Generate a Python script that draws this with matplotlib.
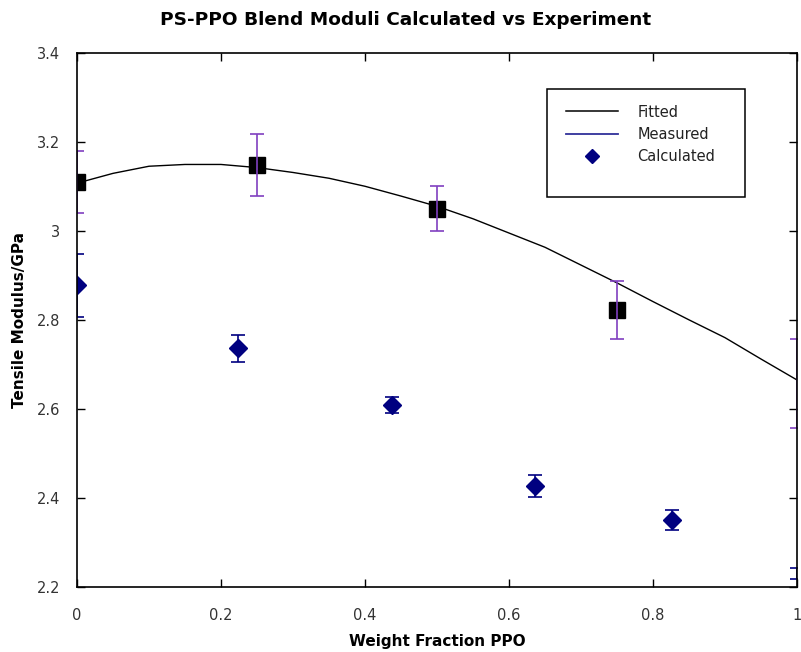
import matplotlib
matplotlib.use("Agg")
from matplotlib import pyplot as plt
from matplotlib.lines import Line2D
from matplotlib.patches import Rectangle
from matplotlib.ticker import FuncFormatter

# fitted curve
fit_x = [0.0, 0.05, 0.1, 0.15, 0.2, 0.25, 0.3, 0.35, 0.4, 0.45, 0.5,
         0.55, 0.6, 0.65, 0.7, 0.75, 0.8, 0.85, 0.9, 0.95, 1.0]
fit_y = [3.107, 3.129, 3.145, 3.149, 3.149, 3.142, 3.131, 3.118, 3.100, 3.078, 3.055,
         3.027, 2.995, 2.963, 2.923, 2.883, 2.841, 2.800, 2.760, 2.712, 2.665]

# measured
meas_x = [0.0, 0.25, 0.5, 0.75, 1.0]
meas_y = [3.109, 3.148, 3.05, 2.823, 2.657]
meas_err = [0.07, 0.07, 0.05, 0.065, 0.10]

# calculated
calc_x = [0.0, 0.224, 0.437, 0.636, 0.826, 1.0]
calc_y = [2.878, 2.736, 2.608, 2.427, 2.350, 2.231]
calc_err = [0.071, 0.03, 0.018, 0.025, 0.022, 0.012]

xticks = [0, 0.2, 0.4, 0.6, 0.8, 1]
yticks = [2.2, 2.4, 2.6, 2.8, 3, 3.2, 3.4]

navy = '#000080'
purple = '#8040c0'

fig = plt.figure(figsize=(8.01, 6.52), dpi=100)
ax = fig.add_axes([77 / 801, 1 - 587 / 652, 720 / 801, 534.3 / 652])

artists = []
artists += ax.plot(fit_x, fit_y, color='black', lw=1.0, zorder=2)

artists += ax.plot(meas_x, meas_y, ls='none', marker='s', ms=11.3, color='black',
                   markevery=slice(0, len(meas_x) - 1), zorder=3)
eb = ax.errorbar(meas_x, meas_y, yerr=meas_err, fmt='none', ecolor=purple,
                 elinewidth=1.2, capsize=4.7, capthick=1.2, zorder=4)
artists += list(eb.lines[1]) + list(eb.lines[2])

eb = ax.errorbar(calc_x, calc_y, yerr=calc_err, fmt='none', ecolor=navy,
                 elinewidth=1.2, capsize=4.7, capthick=1.2, zorder=3)
artists += list(eb.lines[1]) + list(eb.lines[2])
artists += ax.plot(calc_x, calc_y, ls='none', marker='D', ms=9, color=navy,
                   markevery=slice(0, len(calc_x) - 1), zorder=4)

for a in artists:
    a.set_clip_path(ax.patch)

ax.set_xlim(0, 1)
ax.set_ylim(2.2, 3.4)
ax.set_xticks(xticks)
ax.set_yticks(yticks)
fmt = FuncFormatter(lambda v, p: '%g' % v)
ax.xaxis.set_major_formatter(fmt)
ax.yaxis.set_major_formatter(fmt)
ax.tick_params(direction='in', length=5.8, width=1.0, top=True, right=True,
               labelsize=10.5, labelcolor='#333333')
ax.tick_params(axis='y', pad=12)
ax.tick_params(axis='x', pad=15)
for s in ax.spines.values():
    s.set_linewidth(1.2)
    s.set_zorder(10)

ax.set_xlabel('Weight Fraction PPO', fontsize=11, fontweight='bold', labelpad=8)
ax.set_ylabel('Tensile Modulus/GPa', fontsize=11, fontweight='bold', labelpad=7)

fig.text(0.506, 1 - 20 / 652, 'PS-PPO Blend Moduli Calculated vs Experiment',
         ha='center', va='center', fontsize=13.3, fontweight='bold')

# legend
ax.add_patch(Rectangle((0.653, 0.730), 0.275, 0.202, transform=ax.transAxes,
                       facecolor='white', edgecolor='black', lw=1.1, zorder=5))
handles = [Line2D([], [], color='black', lw=1.1),
           Line2D([], [], color='#30309a', lw=1.3),
           Line2D([], [], ls='none', marker='D', ms=7, color=navy)]
leg = ax.legend(handles, ['Fitted', 'Measured', 'Calculated'], loc='upper left',
                bbox_to_anchor=(0.679, 0.903), frameon=False, fontsize=10.5,
                handlelength=3.6, handletextpad=1.3, labelspacing=0.5,
                borderpad=0, borderaxespad=0)
leg.set_zorder(6)
for t in leg.get_texts():
    t.set_color('#222222')

fig.savefig('out.png', dpi=100)
